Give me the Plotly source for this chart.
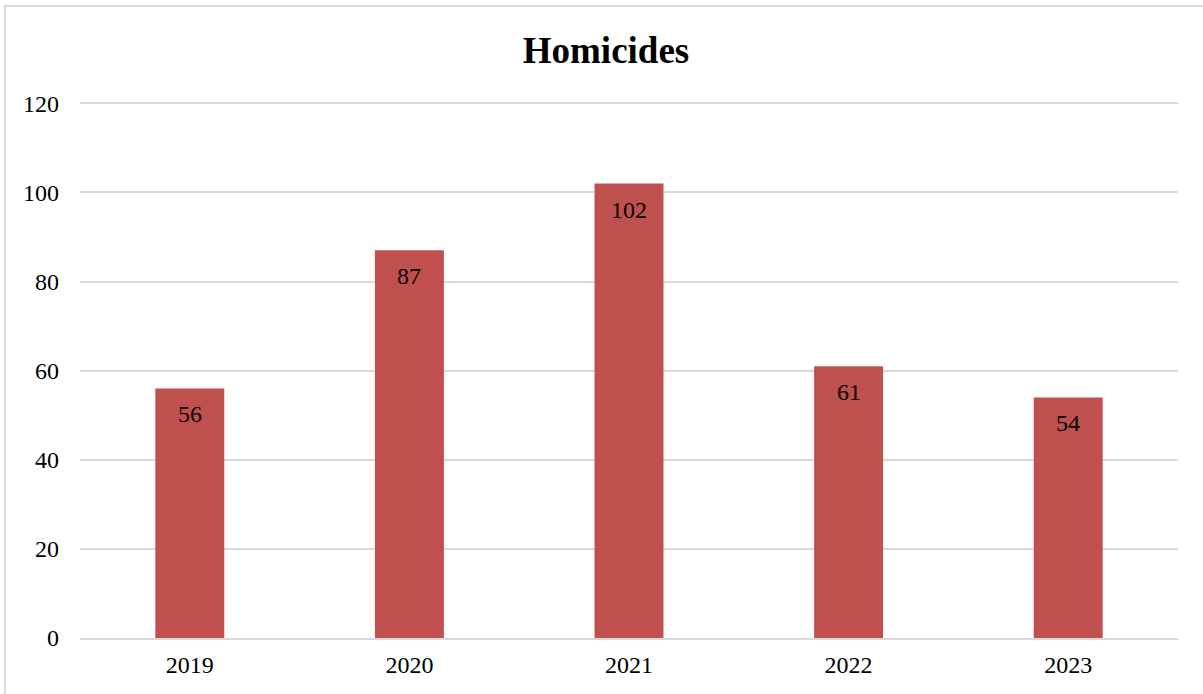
import plotly.graph_objects as go

years = ["2019", "2020", "2021", "2022", "2023"]
homicides = [56, 87, 102, 61, 54]
y_ticks = [0, 20, 40, 60, 80, 100, 120]

FONT = "Liberation Serif, Times New Roman, serif"
L, R, T, B = 80, 25, 102, 56
W, H = 1203, 694
pw = W - L - R
ph = H - T - B

fig = go.Figure(go.Bar(
    x=years, y=homicides,
    marker=dict(color="#C0504D", line=dict(width=0)),
    hoverinfo="x+y",
))

# data labels: category index positions on the category axis
for i, v in enumerate(homicides):
    fig.add_annotation(x=i, y=v, text=str(v), showarrow=False,
                       yshift=-26, yanchor="middle", xanchor="center",
                       font=dict(family=FONT, size=24, color="black"))

fig.update_layout(
    width=W, height=H,
    margin=dict(l=L, r=R, t=T, b=B),
    paper_bgcolor="white", plot_bgcolor="white",
    bargap=0.686,
    showlegend=False,
    title=dict(text="<b>Homicides</b>", x=606 / W, xanchor="center",
               y=1 - 50 / H, yanchor="middle",
               font=dict(family=FONT, size=37, color="black")),
    font=dict(family=FONT, size=24, color="black"),
    xaxis=dict(type="category", range=[-0.5, len(years) - 0.5],
               showgrid=False, showline=True, linecolor="#D9D9D9", linewidth=2,
               ticks="", ticklabelstandoff=4,
               tickfont=dict(family=FONT, size=24, color="black")),
    yaxis=dict(range=[0, 120.3], tickvals=y_ticks, showgrid=True, gridcolor="#D9D9D9",
               gridwidth=1.5, zeroline=False, showline=False, ticks="",
               ticklabelstandoff=20,
               tickfont=dict(family=FONT, size=24, color="black")),
    shapes=[dict(type="rect", xref="paper", yref="paper",
                 x0=(5 - L) / pw, x1=(W + 10 - L) / pw,
                 y0=-(B + 10) / ph, y1=(H - B - 6) / ph,
                 line=dict(color="#D9D9D9", width=2), fillcolor="rgba(0,0,0,0)", layer="below")],
)

fig.write_html("out.html", config={"displayModeBar": False},
               post_script="document.body.style.margin='0px';document.body.style.overflow='hidden';")
